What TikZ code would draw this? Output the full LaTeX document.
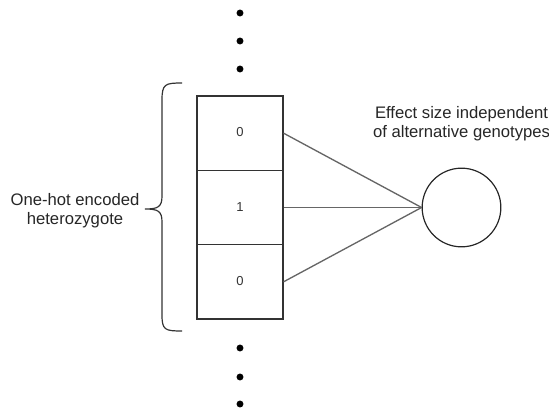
\documentclass[tikz,border=0pt]{standalone}
\usepackage{fontspec}
\setmainfont{Liberation Sans}
\begin{document}
\begin{tikzpicture}[x=0.75pt,y=-0.75pt,
  cell/.style={draw=black!80, line width=0.9pt, rectangle, minimum width=64.5pt, minimum height=55.7pt, inner sep=0pt, text=black!80, font=\fontsize{9.75}{11}\selectfont},
  unit/.style={draw=black!85, line width=0.9pt, circle, minimum size=59pt, inner sep=0pt},
  conn/.style={draw=black!60, line width=1pt},
  lbl/.style={align=center, text=black!85, font=\fontsize{12.5}{14}\selectfont, inner sep=0pt},
  dotn/.style={fill=black, circle, minimum size=5.2pt, inner sep=0pt}]
\useasboundingbox (0,0) rectangle (549,414);
\node[cell] (b1) at (240,133.2) {\raisebox{1.4pt}{0}};
\node[cell] (b2) at (240,207.5) {\raisebox{1.4pt}{1}};
\node[cell] (b3) at (240,281.8) {\raisebox{1.4pt}{0}};
\node[unit] (c) at (461.5,207.5) {};
\draw[conn] (b1.east) -- (c.west);
\draw[conn] (b2.east) -- (c.west);
\draw[conn] (b3.east) -- (c.west);
\node[lbl] (t1) at (461.5,124) {Effect size independent\\of alternative genotypes};
\node[lbl] (t2) at (75,210.6) {One-hot encoded\\heterozygote};
\draw[draw=black!80, line width=0.9pt] (182,83) .. controls (165,83) and (162,84) .. (162,100) -- (162,196) .. controls (162,207) and (158,209) .. (145,209) .. controls (158,209) and (162,211) .. (162,222) -- (162,315) .. controls (162,330) and (165,331) .. (182,331);
\node[dotn] (d1) at (240,13) {};
\node[dotn] (d2) at (240,41) {};
\node[dotn] (d3) at (240,69) {};
\node[dotn] (d4) at (240,348) {};
\node[dotn] (d5) at (240,377) {};
\node[dotn] (d6) at (240,404) {};
\end{tikzpicture}
\end{document}
